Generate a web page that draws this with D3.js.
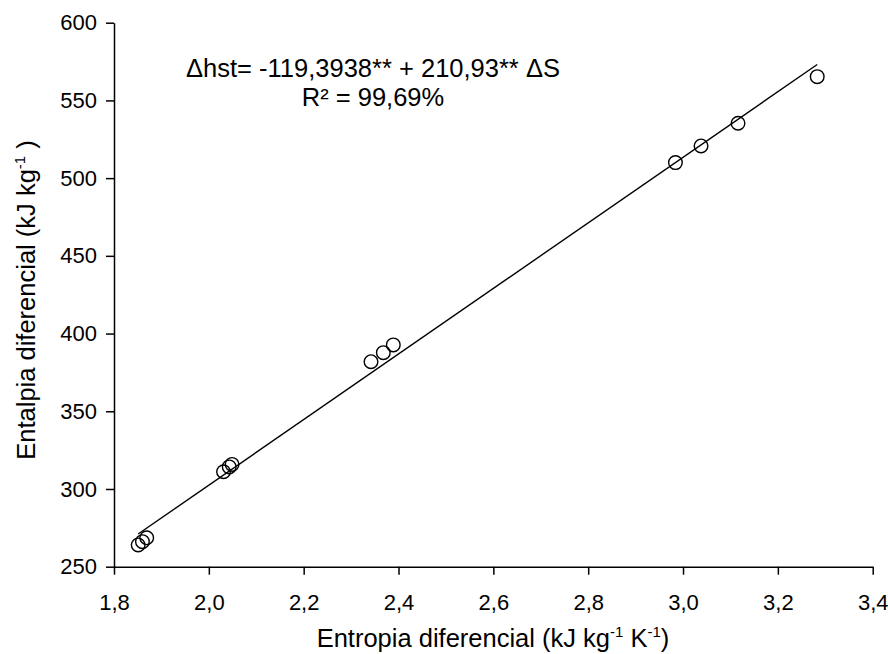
<!DOCTYPE html>
<html>
<head>
<meta charset="utf-8">
<script src="https://cdn.jsdelivr.net/npm/d3@7"></script>
<style>
  body { margin: 0; background: #fff; }
  text { font-family: "Liberation Sans", Arial, sans-serif; fill: #000; }
</style>
</head>
<body>
<script>
// dados
var entropia = [1.851, 1.860, 1.869, 2.031, 2.043, 2.049, 2.342, 2.368, 2.389, 2.984, 3.038, 3.116, 3.283];
var entalpia = [264.0, 266.1, 268.6, 311.1, 314.2, 315.8, 381.9, 387.7, 392.7, 510.0, 520.7, 535.3, 565.3];
var xTicks = [1.8, 2.0, 2.2, 2.4, 2.6, 2.8, 3.0, 3.2, 3.4];
var yTicks = [250, 300, 350, 400, 450, 500, 550, 600];
var intercepto = -119.3938;
var inclinacao = 210.93;

var W = 888, H = 654;
var svg = d3.select("body").append("svg")
    .attr("width", W)
    .attr("height", H);

var x = d3.scaleLinear().domain([1.8, 3.4]).range([114, 872.7]);
var y = d3.scaleLinear().domain([250, 600]).range([566.7, 22.7]);

var virgula = function(d) { return d3.format(".1f")(d).replace(".", ","); };

// eixo x
var gx = svg.append("g")
    .attr("transform", "translate(0," + y(250) + ")")
    .call(d3.axisBottom(x).tickValues(xTicks).tickFormat(virgula)
        .tickSizeInner(8).tickSizeOuter(0).tickPadding(20));
gx.selectAll("text").style("font-size", "22px");

// eixo y
var gy = svg.append("g")
    .attr("transform", "translate(" + x(1.8) + ",0)")
    .call(d3.axisLeft(y).tickValues(yTicks)
        .tickSizeInner(8).tickSizeOuter(0).tickPadding(9));
gy.selectAll("text").style("font-size", "22px");

svg.selectAll(".domain, .tick line").attr("stroke", "#000").attr("stroke-width", 1.5);

// reta ajustada
var xr = d3.extent(entropia);
svg.append("line")
    .attr("x1", x(xr[0])).attr("y1", y(intercepto + inclinacao * xr[0]))
    .attr("x2", x(xr[1])).attr("y2", y(intercepto + inclinacao * xr[1]))
    .attr("stroke", "#000")
    .attr("stroke-width", 1.4);

// pontos
svg.selectAll("circle.pt")
    .data(d3.range(entropia.length))
    .enter().append("circle")
    .attr("class", "pt")
    .attr("cx", function(i) { return x(entropia[i]); })
    .attr("cy", function(i) { return y(entalpia[i]); })
    .attr("r", 6.8)
    .attr("fill", "none")
    .attr("stroke", "#000")
    .attr("stroke-width", 1.4);

// equacao
svg.append("text")
    .attr("x", 373).attr("y", 77)
    .attr("text-anchor", "middle")
    .style("font-size", "25.5px")
    .text("\u0394hst= -119,3938** + 210,93** \u0394S");
svg.append("text")
    .attr("x", 373).attr("y", 106)
    .attr("text-anchor", "middle")
    .style("font-size", "25.5px")
    .text("R\u00b2 = 99,69%");

// titulo eixo x
var tx = svg.append("text")
    .attr("x", 493).attr("y", 647)
    .attr("text-anchor", "middle")
    .style("font-size", "25.5px");
tx.append("tspan").text("Entropia diferencial (kJ kg");
tx.append("tspan").attr("dy", -10).style("font-size", "15px").text("-1");
tx.append("tspan").attr("dy", 10).text(" K");
tx.append("tspan").attr("dy", -10).style("font-size", "15px").text("-1");
tx.append("tspan").attr("dy", 10).text(")");

// titulo eixo y
var ty = svg.append("text")
    .attr("transform", "translate(35,300) rotate(-90)")
    .attr("text-anchor", "middle")
    .style("font-size", "25.5px");
ty.append("tspan").text("Entalpia diferencial (kJ kg");
ty.append("tspan").attr("dy", -10).style("font-size", "15px").text("-1");
ty.append("tspan").attr("dy", 10).text(" )");
</script>
</body>
</html>
